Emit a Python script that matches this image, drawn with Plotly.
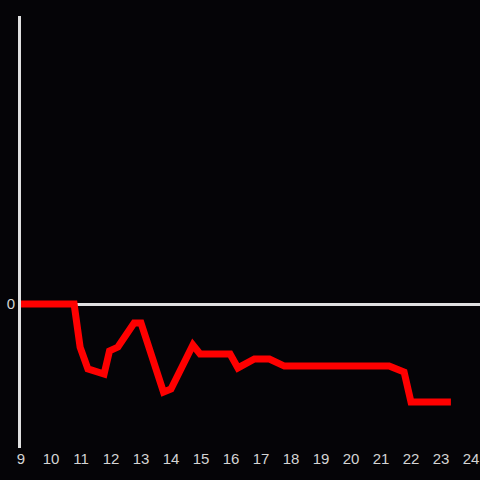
import plotly.graph_objects as go

hours = [9, 10.77, 10.97, 11.23, 11.77, 11.95, 12.23, 12.77, 13.0, 13.75, 14.0,
         14.73, 14.97, 15.97, 16.23, 16.78, 17.28, 17.78, 21.27, 21.77, 22.0, 23.33]
values = [0, 0, -2.99, -4.51, -4.86, -3.26, -2.99, -1.32, -1.32, -6.11, -5.90,
          -2.85, -3.47, -3.47, -4.44, -3.82, -3.82, -4.31, -4.31, -4.72, -6.81, -6.81]
x_ticks = list(range(9, 25))

fig = go.Figure()
fig.add_trace(go.Scatter(x=hours, y=values, mode="lines",
                         line=dict(color="#ff0000", width=7), hoverinfo="skip"))

fig.update_layout(
    width=480, height=480,
    margin=dict(l=21, r=0, t=16, b=32),
    paper_bgcolor="#050407", plot_bgcolor="#050407",
    showlegend=False,
    font=dict(family="Liberation Sans, Arial, sans-serif", size=15, color="#d4d4d4"),
    xaxis=dict(range=[9, 24.3], tickvals=x_ticks, ticktext=[str(t) for t in x_ticks],
               showgrid=False, zeroline=False, showline=False, ticks=""),
    yaxis=dict(range=[-10, 20], tickvals=[0], ticktext=["0"], showgrid=False,
               zeroline=True, zerolinecolor="#e0e0e0", zerolinewidth=3,
               showline=True, linecolor="#e0e0e0", linewidth=3, ticks=""),
)

fig.write_html("out.html",
               config={"displayModeBar": False},
               post_script="document.body.style.margin='0';"
                           "document.body.style.background='#050407';")
